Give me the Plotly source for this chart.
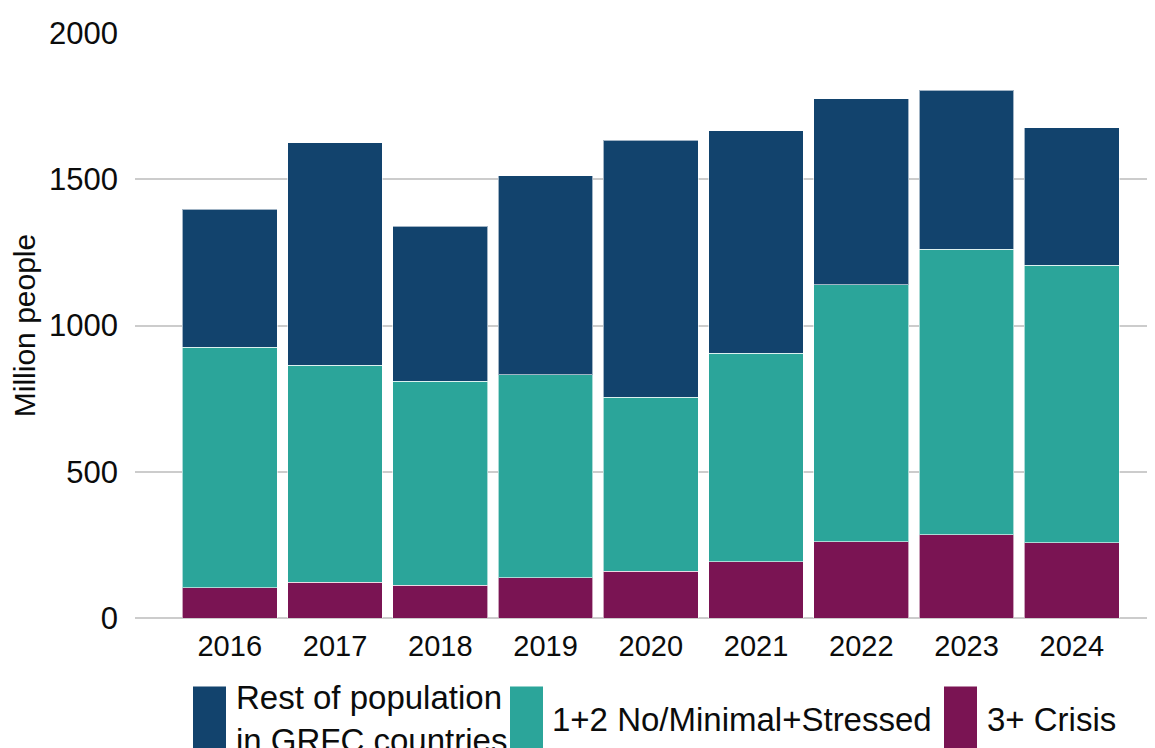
import plotly.graph_objects as go

# values (million people)
years = ["2016", "2017", "2018", "2019", "2020", "2021", "2022", "2023", "2024"]
crisis = [104, 123, 112, 137, 159, 193, 261, 285, 258]
stressed = [821, 741, 698, 695, 595, 713, 879, 976, 948]
rest = [472, 760, 529, 680, 880, 759, 636, 543, 470]

y_ticks = [0, 500, 1000, 1500, 2000]

C_REST = "#12436D"
C_STRESS = "#2BA59A"
C_CRISIS = "#7A1453"
TXT = "#0b0c0c"
FONT = "Liberation Sans, Arial, sans-serif"

W, H = 1155, 748
OFF = 8  # page body margin shifts the figure by 8px
ML, MR, MT, MB = 127, 8, 20, 138

fig = go.Figure()
for name, vals, col in [("3+ Crisis", crisis, C_CRISIS),
                        ("1+2 No/Minimal+Stressed", stressed, C_STRESS),
                        ("Rest of population in GRFC countries", rest, C_REST)]:
    fig.add_trace(go.Bar(x=years, y=vals, name=name, marker_color=col,
                         marker_line=dict(color="rgba(255,255,255,0.6)", width=1),
                         showlegend=False))

fig.update_layout(
    width=W, height=H, barmode="stack", bargap=0.1,
    margin=dict(l=ML, r=MR, t=MT, b=MB),
    plot_bgcolor="white", paper_bgcolor="white",
    font=dict(family=FONT, size=30, color=TXT),
)
fig.update_xaxes(range=[-0.9, 8.79], showgrid=False, showline=False, ticks="",
                 tickfont=dict(size=29), ticklabelstandoff=8)
fig.update_yaxes(range=[0, 2000], tickvals=y_ticks, showgrid=True, gridcolor="#cccccc",
                 gridwidth=2, zeroline=True, zerolinecolor="#cccccc", zerolinewidth=2,
                 ticks="", ticklabelstandoff=16, tickfont=dict(size=31),
                 title=dict(text="Million people", font=dict(size=30), standoff=4))

# legend drawn by hand so the swatches match the tall blocks of the original
pw, ph = W - ML - MR, H - MT - MB


def px(x):
    return (x - OFF - ML) / pw


def py(y):
    return (H - MB - (y - OFF)) / ph


legend_items = [(193, C_REST, "Rest of population<br>in GRFC countries", 234),
                (510, C_STRESS, "1+2 No/Minimal+Stressed", 550),
                (944, C_CRISIS, "3+ Crisis", 985)]
for sx, col, label, tx in legend_items:
    fig.add_shape(type="rect", xref="paper", yref="paper",
                  x0=px(sx), x1=px(sx + 33), y0=py(687), y1=py(770),
                  fillcolor=col, line_width=0)
    fig.add_annotation(xref="paper", yref="paper", x=px(tx), y=py(720),
                       xanchor="left", yanchor="middle", align="left", showarrow=False,
                       text=label, font=dict(size=33, color=TXT))

fig.write_html("out.html")
